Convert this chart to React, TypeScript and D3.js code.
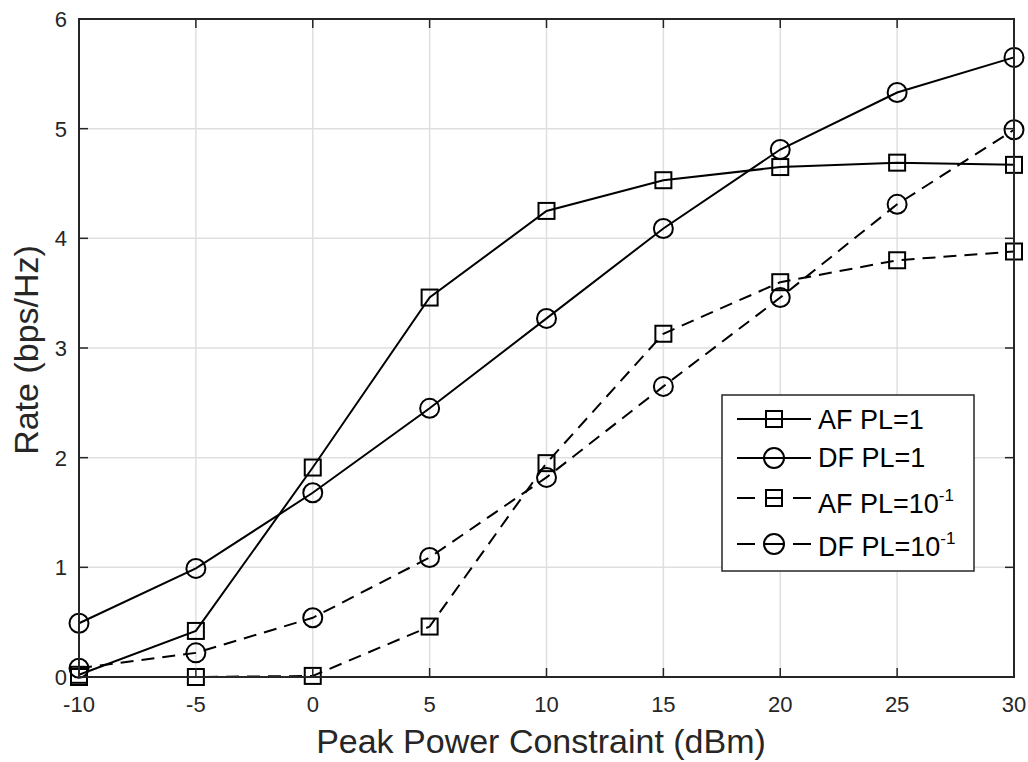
import React from "react";
import * as d3 from "d3";

const xValues = [-10, -5, 0, 5, 10, 15, 20, 25, 30];
const afPL1 = [0.02, 0.42, 1.91, 3.46, 4.25, 4.53, 4.65, 4.69, 4.67];
const dfPL1 = [0.49, 0.99, 1.68, 2.45, 3.27, 4.09, 4.81, 5.33, 5.65];
const afPL01 = [0.0, 0.0, 0.01, 0.46, 1.95, 3.13, 3.6, 3.8, 3.88];
const dfPL01 = [0.08, 0.22, 0.54, 1.09, 1.82, 2.65, 3.46, 4.31, 4.99];
const xTicks = [-10, -5, 0, 5, 10, 15, 20, 25, 30];
const yTicks = [0, 1, 2, 3, 4, 5, 6];

const series = [
  { name: "AF PL=1", sup: "", values: afPL1, marker: "square", dashed: false },
  { name: "DF PL=1", sup: "", values: dfPL1, marker: "circle", dashed: false },
  { name: "AF PL=10", sup: "-1", values: afPL01, marker: "square", dashed: true },
  { name: "DF PL=10", sup: "-1", values: dfPL01, marker: "circle", dashed: true },
];

const W = 1028, H = 762;
const L = 79, R = 1014, T = 19, B = 677;
const font = "Liberation Sans, Arial, sans-serif";
const textColor = "#262626";
const dash = "13,8";

function Marker({ type, x, y }: { type: string; x: number; y: number }) {
  if (type === "square")
    return <rect x={x - 8} y={y - 8} width={16} height={16} fill="none" stroke="#000" strokeWidth={2} />;
  return <circle cx={x} cy={y} r={9.5} fill="none" stroke="#000" strokeWidth={2} />;
}

export default function App() {
  const x = d3.scaleLinear().domain([-10, 30]).range([L, R]);
  const y = d3.scaleLinear().domain([0, 6]).range([B, T]);
  const line = d3
    .line<number>()
    .x((_, i) => x(xValues[i]))
    .y((d) => y(d));

  const legX = 722, legY = 395, legW = 252, legH = 176;
  const lineY = [419, 458, 498, 544];
  const textY = [429, 467, 513, 556];

  return (
    <svg width={W} height={H} style={{ position: "absolute", left: 0, top: 0, background: "#fff" }}>
      <rect x={0} y={0} width={W} height={H} fill="#fff" />
      {xTicks.map((t) => (
        <line key={"gx" + t} x1={x(t)} x2={x(t)} y1={T} y2={B} stroke="#dfdfdf" strokeWidth={1.5} />
      ))}
      {yTicks.map((t) => (
        <line key={"gy" + t} x1={L} x2={R} y1={y(t)} y2={y(t)} stroke="#dfdfdf" strokeWidth={1.5} />
      ))}
      {series.map((s) => (
        <g key={s.name + s.sup}>
          <path
            d={line(s.values) || ""}
            fill="none"
            stroke="#000"
            strokeWidth={2}
            strokeDasharray={s.dashed ? dash : undefined}
          />
          {s.values.map((v, i) => (
            <Marker key={i} type={s.marker} x={x(xValues[i])} y={y(v)} />
          ))}
        </g>
      ))}
      <rect x={L} y={T} width={R - L} height={B - T} fill="none" stroke="#262626" strokeWidth={2} />
      {xTicks.map((t) => (
        <g key={"tx" + t}>
          <line x1={x(t)} x2={x(t)} y1={B} y2={B - 9} stroke="#262626" strokeWidth={1.5} />
          <line x1={x(t)} x2={x(t)} y1={T} y2={T + 9} stroke="#262626" strokeWidth={1.5} />
          <text x={x(t)} y={712} textAnchor="middle" fontFamily={font} fontSize={22} fill={textColor}>
            {t}
          </text>
        </g>
      ))}
      {yTicks.map((t) => (
        <g key={"ty" + t}>
          <line x1={L} x2={L + 9} y1={y(t)} y2={y(t)} stroke="#262626" strokeWidth={1.5} />
          <line x1={R} x2={R - 9} y1={y(t)} y2={y(t)} stroke="#262626" strokeWidth={1.5} />
          <text x={67} y={y(t) + 8} textAnchor="end" fontFamily={font} fontSize={22} fill={textColor}>
            {t}
          </text>
        </g>
      ))}
      <text x={541} y={753} textAnchor="middle" fontFamily={font} fontSize={34} fill={textColor}>
        Peak Power Constraint (dBm)
      </text>
      <text
        transform={`translate(38, ${(T + B) / 2 + 2}) rotate(-90)`}
        textAnchor="middle"
        fontFamily={font}
        fontSize={34}
        fill={textColor}
      >
        Rate (bps/Hz)
      </text>
      <rect x={legX} y={legY} width={legW} height={legH} fill="#fff" stroke="#262626" strokeWidth={1.5} />
      {series.map((s, i) => (
        <g key={"leg" + i}>
          {s.dashed ? (
            <>
              <line x1={737} x2={755} y1={lineY[i]} y2={lineY[i]} stroke="#000" strokeWidth={2} />
              <line x1={765} x2={783} y1={lineY[i]} y2={lineY[i]} stroke="#000" strokeWidth={2} />
              <line x1={793} x2={811} y1={lineY[i]} y2={lineY[i]} stroke="#000" strokeWidth={2} />
            </>
          ) : (
            <line x1={737} x2={811} y1={lineY[i]} y2={lineY[i]} stroke="#000" strokeWidth={2} />
          )}
          {s.marker === "square" ? (
            <rect x={774 - 8} y={lineY[i] - 8} width={16} height={16} fill="none" stroke="#000" strokeWidth={2} />
          ) : (
            <circle cx={774} cy={lineY[i]} r={10} fill="none" stroke="#000" strokeWidth={2} />
          )}
          <text x={818} y={textY[i]} fontFamily={font} fontSize={27} fill="#000">
            {s.name}
            {s.sup && (
              <tspan dy={-12} fontSize={17}>
                {s.sup}
              </tspan>
            )}
          </text>
        </g>
      ))}
    </svg>
  );
}
